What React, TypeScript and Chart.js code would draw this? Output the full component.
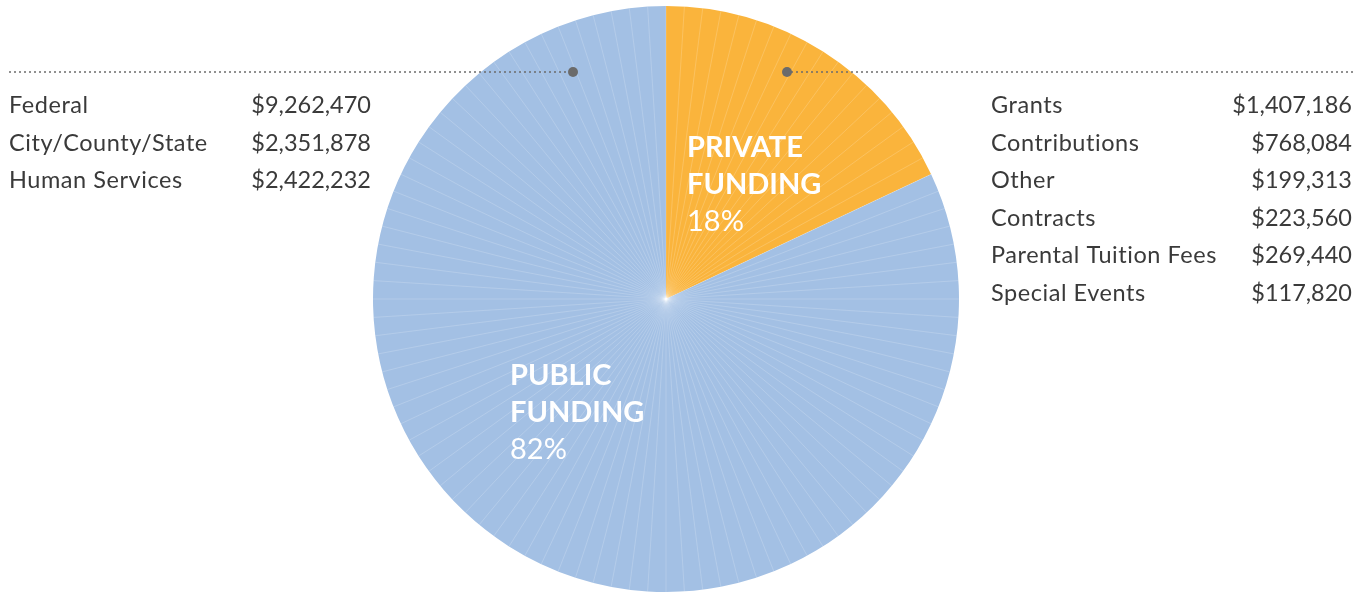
import React, { useEffect, useRef } from "react";
import { Chart, registerables } from "chart.js";

Chart.register(...registerables);

const categories = ["Private Funding", "Public Funding"];
const shares = [18, 82];
const colors = ["#FAB43C", "#A3C0E4"];

const publicLabels = ["Federal", "City/County/State", "Human Services"];
const publicValues = ["$9,262,470", "$2,351,878", "$2,422,232"];
const privateLabels = ["Grants", "Contributions", "Other", "Contracts", "Parental Tuition Fees", "Special Events"];
const privateValues = ["$1,407,186", "$768,084", "$199,313", "$223,560", "$269,440", "$117,820"];

const FONT = "Lato, 'Noto Sans', sans-serif";

const overlayPlugin = {
  id: "overlay",
  afterDatasetsDraw(chart: any) {
    const ctx = chart.ctx as any;
    const meta = chart.getDatasetMeta(0);
    const arc = meta.data[0] as any;
    const cx = arc.x;
    const cy = arc.y;
    const r = arc.outerRadius;
    const total = shares.reduce((a, b) => a + b, 0);
    // faint radial texture at every 1%
    ctx.save();
    ctx.strokeStyle = "rgba(255,255,255,0.3)";
    ctx.lineWidth = 0.6;
    for (let i = 0; i < total; i++) {
      const a = -Math.PI / 2 + (i / total) * Math.PI * 2;
      ctx.beginPath();
      ctx.moveTo(cx, cy);
      ctx.lineTo(cx + r * Math.cos(a), cy + r * Math.sin(a));
      ctx.stroke();
    }
    ctx.restore();

    // leader dotted lines
    ctx.save();
    ctx.fillStyle = "#6b6b6b";
    const ly = 72;
    for (let x = 10; x < 570; x += 5) {
      ctx.beginPath();
      ctx.arc(x, ly, 1, 0, Math.PI * 2);
      ctx.fill();
    }
    for (let x = 792; x <= 1353; x += 5) {
      ctx.beginPath();
      ctx.arc(x, ly, 1, 0, Math.PI * 2);
      ctx.fill();
    }
    ctx.beginPath();
    ctx.arc(573, ly, 5, 0, Math.PI * 2);
    ctx.fill();
    ctx.beginPath();
    ctx.arc(787, ly, 5, 0, Math.PI * 2);
    ctx.fill();
    ctx.restore();

    // lists
    ctx.save();
    ctx.fillStyle = "#3a3a3a";
    ctx.textBaseline = "alphabetic";
    const drawRow = (label: string, value: string, xl: number, xr: number, y: number) => {
      ctx.font = `400 23.5px ${FONT}`;
      ctx.letterSpacing = "0.55px";
      ctx.textAlign = "left";
      ctx.fillText(label, xl, y);
      ctx.letterSpacing = "0px";
      ctx.textAlign = "right";
      ctx.fillText(value, xr, y);
    };
    publicLabels.forEach((t, i) => drawRow(t, publicValues[i], 9, 371, 113 + i * 37.5));
    privateLabels.forEach((t, i) => drawRow(t, privateValues[i], 991, 1352, 113 + i * 37.5));
    ctx.restore();

    // slice labels
    ctx.save();
    ctx.fillStyle = "#ffffff";
    ctx.textAlign = "left";
    ctx.font = `bold 29px ${FONT}`;
    ctx.fillText("PRIVATE", 687, 157);
    ctx.fillText("FUNDING", 687, 194);
    ctx.font = `29px ${FONT}`;
    ctx.fillText(`${shares[0]}%`, 687, 231);
    ctx.font = `bold 29px ${FONT}`;
    ctx.fillText("PUBLIC", 510, 385);
    ctx.fillText("FUNDING", 510, 422);
    ctx.font = `29px ${FONT}`;
    ctx.fillText(`${shares[1]}%`, 510, 459);
    ctx.restore();
  },
};

export default function App() {
  const ref = useRef<HTMLCanvasElement>(null);
  useEffect(() => {
    document.body.style.margin = "0";
    const chart = new Chart(ref.current!, {
      type: "pie",
      data: {
        labels: categories,
        datasets: [
          {
            data: shares,
            backgroundColor: colors,
            borderWidth: 0,
          },
        ],
      },
      options: {
        responsive: false,
        animation: false,
        layout: { padding: { top: 6, bottom: 4, left: 0, right: 40 } },
        plugins: { legend: { display: false }, tooltip: { enabled: false } },
      },
      plugins: [overlayPlugin],
    });
    return () => chart.destroy();
  }, []);
  return <canvas ref={ref} width={1372} height={596} style={{ display: "block" }} />;
}
